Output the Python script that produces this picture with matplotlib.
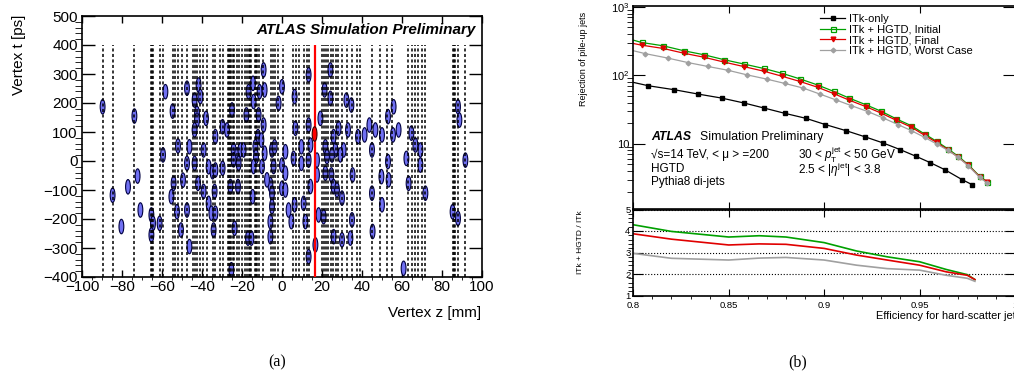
import numpy as np
import matplotlib
matplotlib.use('Agg')
import matplotlib.pyplot as plt
from matplotlib.patches import Ellipse
from matplotlib.ticker import MultipleLocator, LogLocator, NullFormatter

plt.rcParams['font.family'] = ['Liberation Sans', 'DejaVu Sans']
plt.rcParams['mathtext.fontset'] = 'custom'
plt.rcParams['mathtext.rm'] = 'Liberation Sans'
plt.rcParams['mathtext.it'] = 'Liberation Sans:italic'
plt.rcParams['mathtext.bf'] = 'Liberation Sans:bold'

# ---- (a) reconstructed vertices: z [mm], t [ps]
vtx_z = [-89.7, -73.8, -58.3, -54.7, -52.0, -59.5, -72.2, -77.0, -84.7, -54.2,
         -55.3, -49.5, -70.8, -80.3, -65.3, -64.5, -65.3, -61.2, -52.5, -50.5,
         -47.5, -41.7, -40.8, -43.7, -42.5, -42.5, -38.0, -43.7, -33.3, -29.7,
         -27.5, -25.0, -39.2, -46.3, -43.7, -47.5, -36.7, -34.7, -33.3, -29.7,
         -24.2, -22.5, -20.8, -19.2, -24.2, -21.7, -42.0, -39.2, -36.7, -33.7,
         -25.8, -22.0, -47.5, -35.3, -33.3, -34.2, -46.3, -23.7, -17.0, -15.3,
         -25.3, -14.7, -14.5, -16.7, -14.2, -17.8, -11.7, -11.2, -9.2, -8.7,
         -9.2, -12.0, -10.3, -13.3, -13.0, -14.2, -10.0, -8.7, -5.0, -3.7,
         -1.7, 0.0, -4.2, -5.8, -5.0, -5.0, -5.8, -5.8, -7.5,
         6.3, 13.3, 24.2, 21.3, 24.2, 32.2, 34.7, 6.7, 13.3, 19.2,
         9.7, 14.2, 21.7, 25.8, 28.3, 30.8, 26.7, 29.2, 22.5, 25.0,
         33.0, 38.0, 41.3, 43.7, 46.7, 50.0, 45.0, 1.7, 0.0, 1.7,
         5.8, 9.7, 13.3, 17.5, 17.5, 21.7, 24.7, 25.8, 27.5, 30.0,
         35.3, 14.2, 10.8, 6.3, 0.0, 1.7, 3.3, 4.7, 11.7, 18.3,
         20.8, 35.0, 25.8, 30.0, 34.2, 13.3, 16.7, 45.0, 45.3, 49.7, 50.0,
         55.8, 53.0, 55.5, 58.3, 64.7, 66.7, 69.2, 69.2, 62.2, 53.0,
         53.3, 63.3, 71.7, 60.8, 88.0, 88.7, 91.7, 85.3, 88.0]
vtx_t = [187, 155, 239, 172, 52, 21, -52, -89, -118, -77,
         -123, -66, -169, -226, -186, -215, -255, -215, -175, -238,
         251, 262, 222, 210, 164, 141, 147, 107, 84, 118,
         107, 176, 38, 49, -8, -8, -20, -37, -31, -25,
         38, 21, 38, 38, 4, -8, -77, -105, -146, -105,
         -88, -88, -169, -180, -180, -238, -295, -232, -266, -266,
         -375, -123, 268, 239, 205, 159, 159, 239, 314, 245,
         124, 84, 72, 49, 15, -19, -19, 27, 38, 49,
         199, 256, -19, -82, -111, -157, -209, -261, -65,
         222, 297, 314, 245, 216, 210, 193, 113, 124, 147,
         49, 55, 49, 84, 113, 38, 38, 21, 15, 21,
         107, 84, 90, 124, 107, 90, 38, 32, -14, -42,
         9, -8, 3, 3, -48, -42, -48, -88, -100, -128,
         -48, -88, -146, -151, -94, -100, -169, -209, -209, -186,
         -192, -203, -261, -272, -266, -330, -289, -111, -243, -54, -151,
         187, 153, 90, 107, 96, 55, 38, -14, 9, -2,
         -65, -77, -111, -370, 187, 141, 3, -175, -198]
hs_z, hs_t = 16.3, 93          # hard-scatter vertex
hs_line_z = 16.3

# truth vertex positions (dashed lines)
truth_z = [-89.7, -84.7, -73.8, -65.6, -65.0, -64.4, -61.1, -59.4, -54.5, -53.3,
           -51.8, -50.2, -47.4, -44.7, -43.5, -42.6, -41.0, -39.7, -37.7, -34.3,
           -33.5, -31.0, -29.7, -27.2, -26.6, -26.0, -25.5, -24.7, -24.1, -22.7,
           -21.4, -20.1, -18.5, -17.7, -16.6, -16.0, -15.3, -13.5, -12.9, -12.3,
           -11.3, -9.3, -5.7, -4.7, -3.5, -1.8, 0.7, 5.7, 7.0, 8.7,
           11.0, 12.3, 13.5, 19.8, 21.0, 22.0, 23.2, 24.3, 25.7, 27.0,
           28.2, 29.8, 32.7, 34.8, 37.3, 39.0, 44.8, 49.0, 52.3, 54.8,
           63.2, 64.8, 66.5, 68.2, 69.8, 71.5, 85.4, 86.0, 86.6, 88.2, 91.5]

# ---- (b) pile-up jet rejection vs efficiency
x_itk = [0.8, 0.8079, 0.8215, 0.834, 0.8463, 0.858, 0.8684, 0.8794, 0.8904, 0.9007,
         0.9114, 0.9213, 0.9309, 0.94, 0.948, 0.9557, 0.9632, 0.9723, 0.9775]
rej_itk = [79, 70.5, 61.7, 53.3, 46.6, 39.5, 33.4, 27.9, 23.6, 19.1,
           15.6, 12.7, 10.3, 8.2, 6.6, 5.3, 4.2, 3.0, 2.54]
x_hgtd = [0.8, 0.8044, 0.8157, 0.8267, 0.837, 0.8477, 0.8581, 0.8684, 0.878, 0.8876,
          0.8966, 0.9051, 0.9131, 0.9218, 0.93, 0.9379, 0.9457, 0.9527, 0.9589, 0.965,
          0.9702, 0.9754, 0.9815, 0.9853]
rej_initial = [327, 302, 270, 228, 200, 169, 146, 126, 107, 88.3,
               72.3, 58.2, 46.6, 37.3, 29.8, 23.1, 18.4, 13.9, 10.9, 8.4,
               6.6, 5.0, 3.36, 2.81]
rej_final = [292, 276, 247, 210, 184, 156, 134, 115, 97, 81,
             67, 54, 43.5, 35, 28, 22, 17.5, 13.3, 10.5, 8.1,
             6.4, 4.9, 3.3, 2.75]
x_worst = [0.8, 0.8061, 0.818, 0.8285, 0.839, 0.8494, 0.8594, 0.8698, 0.8794, 0.889,
           0.8977, 0.9064, 0.9143, 0.923, 0.9309, 0.9387, 0.9457, 0.9527, 0.9589, 0.965,
           0.9702, 0.9754, 0.9815, 0.9853]
rej_worst = [229, 208, 179, 154, 135, 119, 102, 88.3, 76.2, 65.3,
             53.4, 43.6, 36.1, 29.5, 23.9, 19.1, 15.6, 12.4, 9.97, 8.0,
             6.4, 4.8, 3.25, 2.69]

x_ratio = [0.8, 0.82, 0.85, 0.866, 0.88, 0.9, 0.917, 0.933, 0.95, 0.964, 0.975, 0.979]
ratio_initial = [4.29, 3.98, 3.72, 3.78, 3.72, 3.46, 3.07, 2.80, 2.57, 2.21, 1.97, 1.74]
ratio_final = [3.87, 3.62, 3.35, 3.40, 3.38, 3.19, 2.88, 2.65, 2.41, 2.10, 1.94, 1.74]
ratio_worst = [2.96, 2.73, 2.65, 2.74, 2.77, 2.65, 2.41, 2.25, 2.18, 1.94, 1.80, 1.66]

W, H = 1014, 378
fig = plt.figure(figsize=(W / 100, H / 100), dpi=100)


def box(x0, y0, x1, y1):
    # pixel box -> figure fraction rect
    return [x0 / W, 1 - y1 / H, (x1 - x0) / W, (y1 - y0) / H]


# ================= (a) =================
ax = fig.add_axes(box(82, 16, 482, 277))
for z, t in zip(vtx_z, vtx_t):
    ax.add_patch(Ellipse((z, t), 2.4, 50, facecolor='#7070f2', edgecolor='#000040',
                         lw=0.8, zorder=2))
ax.add_patch(Ellipse((hs_z, hs_t), 2.4, 50, facecolor='#ff0000', edgecolor='#400000',
                     lw=0.8, zorder=4))
ax.vlines(truth_z, -400, 400, colors='k', linestyles=(0, (2, 1.6)), lw=1.1, zorder=3)
ax.vlines(hs_line_z, -400, 400, colors='red', lw=1.6, zorder=3)
ax.set_xlim(-100, 100)
ax.set_ylim(-400, 500)
ax.set_xticks(range(-100, 101, 20))
ax.set_yticks(range(-400, 501, 100))
ax.xaxis.set_minor_locator(MultipleLocator(5))
ax.yaxis.set_minor_locator(MultipleLocator(20))
ax.tick_params(direction='in', top=True, right=True, labelsize=11, width=1.0)
ax.tick_params(axis='y', which='major', length=9.5, pad=3)
ax.tick_params(axis='y', which='minor', length=5)
ax.tick_params(axis='x', which='major', length=5, pad=2)
ax.tick_params(axis='x', which='minor', length=2.5)
for s in ax.spines.values():
    s.set_linewidth(1.2)
ax.text(0.985, 0.945, 'ATLAS Simulation Preliminary', transform=ax.transAxes,
        ha='right', va='center', fontsize=11, fontweight='bold', style='italic')
fig.text(481 / W, 1 - 313 / H, 'Vertex z [mm]', ha='right', va='center', fontsize=11)
fig.text(19 / W, 1 - 15 / H, 'Vertex t [ps]', rotation=90, ha='center', va='top',
         fontsize=11)

# ================= (b) top =================
axt = fig.add_axes(box(633.3, 6, 1015, 209.5))
axt.plot(x_itk, rej_itk, color='k', lw=0.9, marker='s', ms=3.2, markevery=slice(1, None),
         label='ITk-only')
axt.plot(x_hgtd, rej_initial, color='#00a000', lw=0.9, marker='s', ms=3.6, mfc='none',
         mew=0.9, markevery=slice(1, None), label='ITk + HGTD, Initial')
axt.plot(x_hgtd, rej_final, color='#e00000', lw=0.9, marker='v', ms=3.4,
         markevery=slice(1, None), label='ITk + HGTD, Final')
axt.plot(x_worst, rej_worst, color='#a0a0a0', lw=0.9, marker='D', ms=2.4,
         markevery=slice(1, None), label='ITk + HGTD, Worst Case')
axt.set_yscale('log')
axt.set_xlim(0.8, 1.0)
axt.set_ylim(1.1, 1030)
axt.set_yticks([10, 100, 1000], labels=['10', '$10^{2}$', '$10^{3}$'])
axt.yaxis.set_minor_locator(LogLocator(base=10, subs=np.arange(2, 10)))
axt.yaxis.set_minor_formatter(NullFormatter())
axt.xaxis.set_major_locator(MultipleLocator(0.05))
axt.xaxis.set_minor_locator(MultipleLocator(0.01))
axt.tick_params(direction='in', top=True, right=True, labelbottom=False, labelsize=8)
axt.tick_params(axis='y', which='major', length=8.5, pad=3)
axt.tick_params(axis='y', which='minor', length=4.5)
axt.tick_params(axis='x', which='major', length=5)
axt.tick_params(axis='x', which='minor', length=2.5)
for s in axt.spines.values():
    s.set_linewidth(1.2)
axt.legend(loc='upper left', bbox_to_anchor=(0.49, 0.96), frameon=False, fontsize=8,
           handlelength=2.2, handletextpad=0.35, labelspacing=0.05, borderpad=0,
           borderaxespad=0)

fig.text(651 / W, 1 - 137 / H, 'ATLAS', fontsize=8.8, fontweight='bold', style='italic',
         va='center')
fig.text(700 / W, 1 - 137 / H, 'Simulation Preliminary', fontsize=8.8, va='center')
fig.text(651 / W, 1 - 155 / H, '√s=14 TeV, < μ > =200', fontsize=8.5, va='center')
fig.text(651 / W, 1 - 169 / H, 'HGTD', fontsize=8.5, va='center')
fig.text(651 / W, 1 - 182 / H, 'Pythia8 di-jets', fontsize=8.5, va='center')
fig.text(798 / W, 1 - 155 / H, r'30 < $p_{\mathrm{T}}^{\mathrm{jet}}$ < 50 GeV',
         fontsize=8.5, va='center')
fig.text(798 / W, 1 - 170 / H, r'2.5 < |$\eta^{\mathrm{jet}}$| < 3.8', fontsize=8.5,
         va='center')
fig.text(583 / W, 1 - 12 / H, 'Rejection of pile-up jets', rotation=90, ha='center',
         va='top', fontsize=6.5)

# ================= (b) ratio =================
axr = fig.add_axes(box(633.3, 209.5, 1015, 295.5), sharex=axt)
axr.plot(x_ratio, ratio_initial, color='#00a000', lw=1.2)
axr.plot(x_ratio, ratio_final, color='#e00000', lw=1.2)
axr.plot(x_ratio, ratio_worst, color='#a0a0a0', lw=1.2)
axr.set_ylim(1, 5)
axr.set_yticks([1, 2, 3, 4, 5])
axr.yaxis.set_minor_locator(MultipleLocator(0.2))
axr.grid(axis='y', which='major', ls=':', color='k', lw=0.8)
axr.tick_params(direction='in', top=True, right=True, labelsize=6.8)
axr.tick_params(axis='y', which='major', length=7, pad=2)
axr.tick_params(axis='y', which='minor', length=3.5)
axr.tick_params(axis='x', which='major', length=5, pad=4)
axr.tick_params(axis='x', which='minor', length=2.5)
axr.set_xticks([0.8, 0.85, 0.9, 0.95, 1.0], labels=['0.8', '0.85', '0.9', '0.95', '1'])
for s in axr.spines.values():
    s.set_linewidth(1.2)
fig.text(876 / W, 1 - 316 / H, 'Efficiency for hard-scatter jets', fontsize=7.9,
         va='center')
fig.text(580 / W, 1 - 210 / H, 'ITk + HGTD / ITk', rotation=90, ha='center', va='top',
         fontsize=6)

# sub-figure captions
fig.text(277 / W, 1 - 362 / H, '(a)', family='Liberation Serif', fontsize=11.5,
         ha='center', va='center')
fig.text(798 / W, 1 - 362 / H, '(b)', family='Liberation Serif', fontsize=11.5,
         ha='center', va='center')

fig.savefig('out.png', dpi=100)
